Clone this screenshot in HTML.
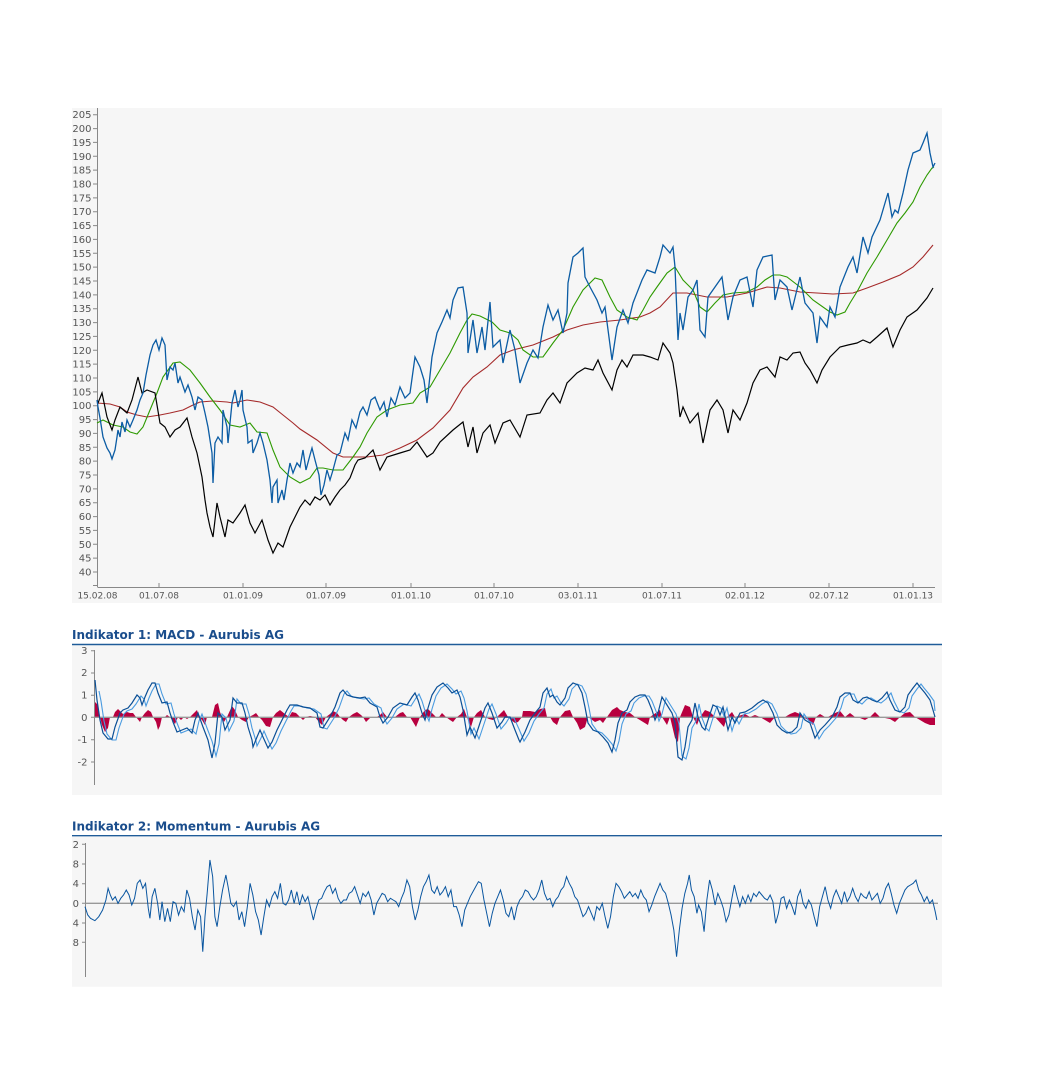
<!DOCTYPE html>
<html><head><meta charset="utf-8"><style>
html,body{margin:0;padding:0;background:#fff;}
svg{display:block;}
text{font-family:"DejaVu Sans","Liberation Sans",sans-serif;}
</style></head><body>
<svg width="1044" height="1084" viewBox="0 0 1044 1084" xmlns="http://www.w3.org/2000/svg">
<rect x="0" y="0" width="1044" height="1084" fill="#fff"/>
<!-- main panel -->
<rect x="72" y="108" width="870" height="495" fill="#f6f6f6"/>
<g stroke="#888" stroke-width="1" fill="none">
<line x1="97.5" y1="108" x2="97.5" y2="587"/>
<line x1="97.5" y1="587.5" x2="935" y2="587.5"/>
<path d="M93 114.7H97.5M93 128.6H97.5M93 142.4H97.5M93 156.3H97.5M93 170.1H97.5M93 184H97.5M93 197.9H97.5M93 211.7H97.5M93 225.6H97.5M93 239.4H97.5M93 253.3H97.5M93 267.1H97.5M93 281H97.5M93 294.9H97.5M93 308.7H97.5M93 322.6H97.5M93 336.4H97.5M93 350.3H97.5M93 364.1H97.5M93 378H97.5M93 391.9H97.5M93 405.7H97.5M93 419.6H97.5M93 433.4H97.5M93 447.3H97.5M93 461.1H97.5M93 475H97.5M93 488.9H97.5M93 502.7H97.5M93 516.6H97.5M93 530.4H97.5M93 544.3H97.5M93 558.1H97.5M93 572H97.5M93 585.5H97.5"/>
<path d="M97.5 583V587M159 583V587M243 583V587M326 583V587M411 583V587M494 583V587M578 583V587M662 583V587M745 583V587M829 583V587M913 583V587"/>
</g>
<g fill="#555" font-size="10" text-anchor="end">
<text x="91.5" y="118.2">205</text><text x="91.5" y="132.1">200</text><text x="91.5" y="145.9">195</text><text x="91.5" y="159.8">190</text><text x="91.5" y="173.6">185</text><text x="91.5" y="187.5">180</text><text x="91.5" y="201.4">175</text><text x="91.5" y="215.2">170</text><text x="91.5" y="229.1">165</text><text x="91.5" y="242.9">160</text><text x="91.5" y="256.8">155</text><text x="91.5" y="270.6">150</text><text x="91.5" y="284.5">145</text><text x="91.5" y="298.4">140</text><text x="91.5" y="312.2">135</text><text x="91.5" y="326.1">130</text><text x="91.5" y="339.9">125</text><text x="91.5" y="353.8">120</text><text x="91.5" y="367.6">115</text><text x="91.5" y="381.5">110</text><text x="91.5" y="395.4">105</text><text x="91.5" y="409.2">100</text><text x="91.5" y="423.1">95</text><text x="91.5" y="436.9">90</text><text x="91.5" y="450.8">85</text><text x="91.5" y="464.6">80</text><text x="91.5" y="478.5">75</text><text x="91.5" y="492.4">70</text><text x="91.5" y="506.2">65</text><text x="91.5" y="520.1">60</text><text x="91.5" y="533.9">55</text><text x="91.5" y="547.8">50</text><text x="91.5" y="561.6">45</text><text x="91.5" y="575.5">40</text>
</g>
<g fill="#555" font-size="9" text-anchor="middle">
<text x="97.5" y="598.5">15.02.08</text><text x="159" y="598.5">01.07.08</text><text x="243" y="598.5">01.01.09</text><text x="326" y="598.5">01.07.09</text><text x="411" y="598.5">01.01.10</text><text x="494" y="598.5">01.07.10</text><text x="578" y="598.5">03.01.11</text><text x="662" y="598.5">01.07.11</text><text x="745" y="598.5">02.01.12</text><text x="829" y="598.5">02.07.12</text><text x="913" y="598.5">01.01.13</text>
</g>
<!-- red MA -->
<polyline fill="none" stroke="#a52a2a" stroke-width="1.1" points="97,403 110,404 120,407 127,412 137,415 147,417 160,415 170,413 183,410 193,405 200,402 213,401 227,402 233,403 247,400 260,402 273,407 283,415 293,423 300,429 317,440 333,453 343,457 367,457 383,455 400,448 417,440 433,428 450,410 463,388 473,377 487,367 500,355 513,350 533,345 553,337 567,330 583,325 600,322 620,320 640,317 650,313 660,307 673,293 687,293 707,297 727,297 747,293 767,287 780,288 800,292 817,293 833,294 853,293 867,288 883,282 900,275 913,267 923,257 933,245"/>
<!-- green MA -->
<polyline fill="none" stroke="#2d9a00" stroke-width="1.1" points="97,423 103,420 113,425 123,427 130,432 137,434 143,427 150,410 157,393 163,377 173,363 180,362 190,370 200,383 210,397 220,410 230,425 240,427 250,423 257,432 267,433 273,450 280,467 290,477 300,483 310,478 317,468 323,468 333,470 343,470 353,457 360,447 367,433 377,417 387,410 400,405 413,403 420,393 430,387 440,370 450,353 460,333 467,320 472,314 480,316 492,322 500,330 510,333 518,340 523,350 533,357 543,357 553,343 563,330 573,307 583,290 595,278 602,280 610,297 617,310 627,317 637,320 643,310 650,297 657,287 667,273 675,267 683,280 693,290 700,307 707,312 715,303 723,295 733,293 747,292 757,287 765,280 773,275 780,275 787,277 800,287 813,300 830,312 837,315 845,312 850,303 858,290 867,273 877,257 887,240 897,223 905,213 913,202 920,187 927,175 932,168 934,167"/>
<!-- black benchmark -->
<polyline fill="none" stroke="#000" stroke-width="1.2" points="97,400 98,403 102,393 107,417 112,430 115,420 120,407 127,413 132,400 138,377 142,393 147,390 155,393 160,423 165,427 170,437 175,430 180,427 187,418 192,437 197,453 202,477 205,500 207,513 210,527 213,537 217,503 220,517 225,537 228,520 233,523 240,513 245,505 250,523 255,533 262,520 268,540 273,553 278,543 283,547 290,527 297,513 300,507 305,500 310,505 315,497 320,500 325,495 330,505 335,497 340,490 345,485 350,478 355,465 358,460 365,458 373,450 380,470 387,457 400,453 410,450 417,442 427,457 433,453 440,442 453,430 463,422 468,447 473,427 477,453 483,433 490,425 495,443 503,423 510,420 520,437 527,415 540,413 547,400 553,393 560,403 567,383 577,373 585,368 593,370 598,360 603,373 612,390 617,370 622,360 627,367 633,355 643,355 650,357 658,360 663,343 670,353 673,363 677,390 680,417 683,407 690,423 698,413 703,443 710,410 717,400 723,410 728,433 733,410 740,420 747,403 753,383 760,370 767,367 775,377 780,357 787,360 793,353 800,352 805,363 810,370 817,383 822,370 830,357 840,347 848,345 857,343 863,340 870,343 877,337 887,328 893,347 900,330 907,317 917,310 927,298 930,293 933,288"/>
<!-- blue price -->
<polyline fill="none" stroke="#0b5ca4" stroke-width="1.3" points="97,400 98,407 100,418 103,437 107,448 110,453 112,459 115,450 117,437 118,430 120,437 122,422 125,432 127,420 130,427 133,420 137,410 140,400 143,393 146,375 150,355 153,345 156,340 159,350 162,338 165,345 167,380 170,367 173,370 175,363 178,383 180,377 185,392 188,385 192,397 195,410 198,397 202,400 205,413 208,427 212,453 213,483 215,443 218,437 222,443 223,410 227,427 228,443 232,403 235,390 238,407 240,400 242,390 243,410 247,427 248,443 252,440 253,453 257,443 260,433 263,443 267,460 270,480 272,503 273,487 277,480 278,503 282,490 284,500 287,480 290,463 293,473 297,463 300,467 303,450 306,470 310,455 312,448 315,460 319,475 321,495 324,485 327,470 330,480 333,470 337,455 340,453 345,433 348,440 352,420 356,428 360,412 363,407 367,415 371,400 375,397 380,410 384,402 387,417 391,398 395,405 400,387 405,398 410,393 415,357 420,367 424,380 427,403 432,357 437,333 442,322 447,310 450,318 453,300 458,288 463,287 467,313 468,353 473,320 477,353 482,327 485,350 490,302 493,347 500,340 503,363 510,330 515,350 520,383 527,363 533,350 538,358 543,327 548,305 553,320 558,310 563,333 567,313 568,283 573,257 578,253 583,248 585,277 590,287 597,300 602,313 605,307 612,360 617,327 623,310 628,323 633,303 642,280 647,270 655,273 660,257 663,245 670,253 673,247 675,267 678,340 680,313 683,330 688,297 693,290 697,280 700,330 705,337 708,297 715,287 722,277 728,320 733,297 740,280 747,277 753,307 757,270 763,257 772,255 775,300 780,280 787,287 792,310 800,277 805,303 813,313 817,343 820,317 827,327 830,307 835,317 840,287 848,267 853,257 857,273 863,237 868,253 872,237 880,220 885,203 888,193 892,217 895,210 898,213 903,193 908,170 913,153 920,150 923,143 927,133 930,153 933,167 935,163"/>

<!-- MACD -->
<text x="72" y="639" font-size="12" font-weight="bold" fill="#1a4d8c">Indikator 1: MACD - Aurubis AG</text>
<line x1="72" y1="644.5" x2="942" y2="644.5" stroke="#1f5c99" stroke-width="1.4"/>
<rect x="72" y="645.5" width="870" height="149.5" fill="#f6f6f6"/>
<g stroke="#888" stroke-width="1" fill="none">
<line x1="94.5" y1="650" x2="94.5" y2="785"/>
<path d="M91 650.7H94.5M91 673H94.5M91 695.3H94.5M91 717.3H94.5M91 739.7H94.5M91 762H94.5"/>
</g>
<g fill="#555" font-size="10" text-anchor="end">
<text x="87.5" y="654.2">3</text><text x="87.5" y="676.2">2</text><text x="87.5" y="698.5">1</text><text x="87.5" y="720.8">0</text><text x="87.5" y="743.2">-1</text><text x="87.5" y="765.5">-2</text>
</g>
<path fill="#b8003f" d="M95,717 L95,702 98,705 100,717 102,725 105,732 108,728 110,717 113,717 115,712 118,709 120,711 123,714 127,712 130,713 133,713 136,717 140,722 142,717 145,713 148,710 151,712 153,717 156,722 158,730 160,726 162,717 165,717 167,715 170,717 172,720 175,724 178,717 181,720 184,717 187,719 190,717 194,713 197,710 199,717 202,720 205,725 207,717 212,717 215,705 218,703 220,712 222,717 224,722 227,717 232,706 235,710 238,717 242,720 246,722 249,717 253,715 256,713 259,717 262,720 266,726 270,727 273,717 276,713 280,710 285,714 289,717 292,712 296,713 300,717 303,720 306,717 310,716 315,717 319,722 322,725 326,717 330,714 333,711 337,713 340,717 343,720 346,722 349,717 353,714 357,712 361,715 363,717 366,722 371,717 377,717 380,715 383,712 387,717 390,718 395,717 400,713 403,712 407,717 410,717 413,722 416,727 420,717 425,710 428,709 432,713 436,717 439,717 442,713 446,717 450,720 453,722 457,717 461,714 464,709 468,720 471,727 474,717 477,713 481,710 485,717 489,719 493,720 497,717 501,713 504,710 508,717 511,720 515,723 518,722 522,717 523,711 530,711 535,712 540,709 545,708 547,717 550,717 553,722 557,725 560,717 565,711 570,710 573,717 577,723 580,730 585,727 588,717 595,722 600,720 603,723 607,717 612,710 617,707 620,710 625,712 630,713 635,717 648,725 650,717 660,710 662,717 667,725 670,717 675,738 678,742 680,717 685,705 690,707 693,717 697,725 700,717 705,710 710,712 715,717 724,727 727,717 732,712 735,717 745,714 750,717 755,715 760,717 765,720 770,723 775,717 785,717 790,714 795,712 800,714 803,717 808,720 813,725 816,717 820,714 825,717 828,717 835,713 840,711 845,717 850,713 855,717 860,718 865,720 870,717 875,712 880,717 890,719 895,722 900,717 905,713 910,712 915,717 920,720 925,723 930,725 935,725 935,717 Z"/>
<line x1="94.5" y1="717.3" x2="935" y2="717.3" stroke="#999" stroke-width="1.3"/>
<polyline id="macdline" fill="none" stroke="#4a9be0" stroke-width="1.1" transform="translate(4,1)" points="95,690 97,700 100,720 103,733 108,739 112,739 115,727 120,713 123,710 128,708 132,703 137,695 140,698 142,705 145,697 148,690 152,683 155,683 158,693 162,703 167,702 170,713 173,722 177,732 182,730 187,728 192,733 195,720 198,713 203,727 208,740 212,755 215,743 218,713 222,717 225,730 230,720 233,698 237,703 242,703 245,713 248,727 252,740 253,745 257,737 260,730 263,737 268,748 272,742 277,730 282,720 287,710 290,705 297,705 303,707 310,708 317,713 320,727 323,728 330,717 335,707 340,693 343,690 347,695 353,697 360,698 365,697 370,703 377,707 380,717 383,723 388,717 393,708 400,703 407,705 412,697 415,693 418,700 422,713 425,720 428,708 432,695 437,687 443,683 448,688 452,693 457,690 460,697 463,710 467,733 470,727 475,738 480,723 485,708 488,703 492,713 497,728 502,722 505,717 510,717 515,728 520,740 525,732 530,720 535,713 540,707 543,693 547,688 550,697 553,695 557,702 560,705 565,698 568,688 573,683 578,685 582,693 585,707 588,723 593,730 598,732 603,737 608,743 612,750 615,740 618,723 622,713 627,710 630,702 635,697 640,695 645,695 648,700 652,710 655,720 658,713 662,697 667,705 672,713 675,723 678,755 682,758 685,747 688,727 692,720 695,703 698,717 702,727 705,730 708,720 713,705 717,707 720,715 723,707 728,730 732,717 735,723 740,713 745,712 752,708 758,703 763,700 768,703 773,713 777,725 782,730 787,733 792,732 797,727 800,713 805,720 810,723 815,738 820,730 825,725 832,717 837,707 840,697 845,693 850,693 853,700 858,703 863,698 867,697 872,700 877,702 882,698 887,692 890,700 895,710 900,712 905,707 908,695 913,688 917,683 920,687 925,693 930,700 931,710"/>
<polyline fill="none" stroke="#0a4f96" stroke-width="1.2" points="95,680 97,700 100,720 103,733 108,739 112,739 115,727 120,713 123,710 128,708 132,703 137,695 140,698 142,705 145,697 148,690 152,683 155,683 158,693 162,703 167,702 170,713 173,722 177,732 182,730 187,728 192,733 195,720 198,713 203,727 208,740 212,758 215,743 218,713 222,717 225,730 230,720 233,698 237,703 242,703 245,713 248,727 252,740 253,747 257,737 260,730 263,737 268,748 272,742 277,730 282,720 287,710 290,705 297,705 303,707 310,708 317,713 320,727 323,728 330,717 335,707 340,693 343,690 347,695 353,697 360,698 365,697 370,703 377,707 380,717 383,723 388,717 393,708 400,703 407,705 412,697 415,693 418,700 422,713 425,720 428,708 432,695 437,687 443,683 448,688 452,693 457,690 460,697 463,710 467,735 470,727 475,738 480,723 485,708 488,703 492,713 497,728 502,722 505,717 510,717 515,730 519,740 520,742 525,732 530,720 535,713 540,707 543,693 547,688 550,697 553,695 557,702 560,705 565,698 568,688 573,683 578,685 582,693 585,707 588,723 593,730 598,732 603,737 608,743 612,752 615,740 618,723 622,713 627,710 630,702 635,697 640,695 645,695 648,700 652,710 655,720 658,713 662,697 667,705 672,713 675,723 678,757 682,760 685,747 688,727 692,720 695,703 698,717 702,727 705,730 708,720 713,705 717,707 720,715 723,707 728,730 732,717 735,723 740,713 745,712 752,708 758,703 763,700 768,703 773,713 777,725 782,730 787,733 792,732 797,727 800,713 805,720 810,723 815,738 820,730 825,725 832,717 837,707 840,697 845,693 850,693 853,700 858,703 863,698 867,697 872,700 877,702 882,698 887,692 890,700 895,710 900,712 905,707 908,695 913,688 917,683 920,687 925,693 930,700 933,710 935,717"/>

<!-- Momentum -->
<text x="72" y="830.5" font-size="12" font-weight="bold" fill="#1a4d8c">Indikator 2: Momentum - Aurubis AG</text>
<line x1="72" y1="835.7" x2="942" y2="835.7" stroke="#1f5c99" stroke-width="1.4"/>
<rect x="72" y="836.7" width="870" height="150" fill="#f6f6f6"/>
<g stroke="#888" stroke-width="1" fill="none">
<line x1="85.5" y1="843" x2="85.5" y2="977"/>
<path d="M82 844.3H85.5M82 864H85.5M82 883.7H85.5M82 903.3H85.5M82 923H85.5M82 942.3H85.5"/>
</g>
<g fill="#555" font-size="10" text-anchor="end">
<text x="79" y="847.8">2</text><text x="79" y="867.5">8</text><text x="79" y="887.2">4</text><text x="79" y="906.8">0</text><text x="79" y="926.5">4</text><text x="79" y="945.8">8</text>
</g>
<line x1="85.5" y1="903.3" x2="938" y2="903.3" stroke="#999" stroke-width="1.3"/>
<g transform="translate(85,850) scale(0.5503,0.33333)">
<polyline fill="none" stroke="#0a56a0" stroke-width="1" vector-effect="non-scaling-stroke" points="0,170 5,195 10,205 18,212 25,200 32,180 38,150 42,115 46,135 50,150 55,140 60,160 65,145 70,135 75,120 80,135 85,165 90,145 95,100 100,90 105,115 110,100 115,175 118,205 122,140 127,115 132,160 136,210 140,155 145,215 150,175 155,215 160,155 165,160 170,195 175,170 180,185 185,120 190,145 195,200 200,240 205,180 210,200 214,305 218,200 222,130 227,30 232,80 236,200 240,230 245,170 250,120 256,75 260,110 265,160 270,170 275,155 280,210 285,185 290,230 295,170 300,100 305,135 310,185 315,210 320,255 325,200 330,150 335,170 340,140 345,125 350,145 355,100 360,160 365,165 370,150 375,120 380,160 385,125 390,165 395,135 400,155 405,140 410,175 415,210 420,175 425,150 430,145 435,125 440,110 445,105 450,130 455,115 460,145 465,160 470,150 475,150 480,130 485,125 490,110 495,135 500,160 505,130 510,140 515,125 520,150 525,195 530,160 535,145 540,130 545,135 550,155 555,145 560,150 565,155 570,170 575,145 580,125 585,90 590,110 595,170 600,210 605,180 610,140 615,110 620,95 625,75 630,120 635,130 640,110 645,135 650,125 655,110 660,140 665,120 670,170 675,170 680,195 685,230 690,180 695,160 700,140 705,125 710,110 715,95 720,100 725,150 730,190 735,230 740,190 745,160 750,140 755,120 760,150 765,190 770,200 775,170 780,210 785,170 790,150 795,140 800,120 805,125 810,140 815,150 820,140 825,120 830,90 835,130 840,150 845,145 850,170 855,150 860,140 865,120 870,110 875,80 880,100 885,115 890,140 895,150 900,175 905,200 910,190 915,170 920,190 925,210 930,170 935,180 940,160 945,200 950,235 955,200 960,140 965,100 970,110 975,125 980,145 985,135 990,125 995,140 1000,130 1005,145 1010,120 1015,140 1020,150 1025,185 1030,165 1035,140 1040,120 1045,100 1050,120 1055,130 1060,160 1065,195 1070,240 1075,320 1080,240 1085,175 1090,130 1095,100 1098,75 1102,120 1107,140 1112,190 1115,165 1120,185 1125,245 1130,150 1135,90 1140,120 1145,165 1150,130 1155,150 1160,175 1165,215 1170,195 1175,150 1180,105 1185,140 1190,170 1195,140 1200,160 1205,135 1210,155 1215,130 1220,140 1225,125 1230,135 1235,145 1240,150 1245,135 1250,155 1255,220 1260,190 1265,145 1270,140 1275,175 1280,150 1285,170 1290,195 1295,140 1300,120 1305,160 1310,175 1315,150 1320,165 1325,200 1330,230 1335,170 1340,140 1345,110 1350,150 1355,175 1360,140 1365,120 1370,140 1375,160 1380,125 1385,155 1390,140 1395,115 1400,140 1405,155 1410,130 1415,140 1420,145 1425,125 1430,150 1435,140 1440,130 1445,160 1450,145 1455,115 1460,100 1465,130 1470,165 1475,190 1480,160 1485,140 1490,120 1495,110 1500,105 1505,100 1510,90 1515,120 1520,135 1525,155 1530,140 1535,160 1540,150 1545,185 1548,210"/>
</g>
</svg>
</body></html>
